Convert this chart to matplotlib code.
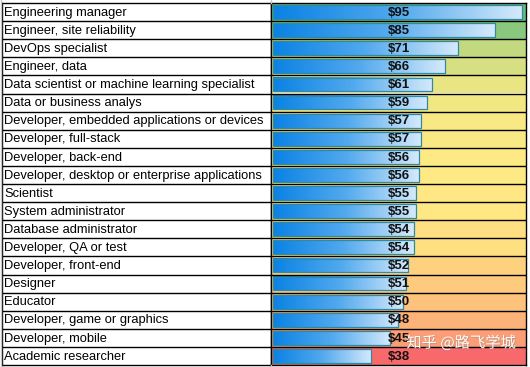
import numpy as np
import matplotlib
matplotlib.use("Agg")
import matplotlib.pyplot as plt
from matplotlib.colors import LinearSegmentedColormap, to_rgb
from matplotlib.lines import Line2D
import matplotlib.patheffects as pe

# Datos de la tabla
roles = [
    "Engineering manager",
    "Engineer, site reliability",
    "DevOps specialist",
    "Engineer, data",
    "Data scientist or machine learning specialist",
    "Data or business analys",
    "Developer, embedded applications or devices",
    "Developer, full-stack",
    "Developer, back-end",
    "Developer, desktop or enterprise applications",
    "Scientist",
    "System administrator",
    "Database administrator",
    "Developer, QA or test",
    "Developer, front-end",
    "Designer",
    "Educator",
    "Developer, game or graphics",
    "Developer, mobile",
    "Academic researcher",
]
salaries = [95, 85, 71, 66, 61, 59, 57, 57, 56, 56, 55, 55, 54, 54, 52, 51, 50, 48, 45, 38]
watermark = "知乎 @路飞学城"


def escala_color(v, vmin, vmed, vmax):
    """Escala de 3 colores estilo Excel (rojo-amarillo-verde)."""
    rojo = np.array(to_rgb("#F8696B"))
    amarillo = np.array(to_rgb("#FFEB84"))
    verde = np.array(to_rgb("#63BE7B"))
    if v <= vmed:
        t = (v - vmin) / (vmed - vmin)
        return tuple(rojo + t * (amarillo - rojo))
    t = (v - vmed) / (vmax - vmed)
    return tuple(amarillo + t * (verde - amarillo))


W, H = 530, 367
fig = plt.figure(figsize=(W / 100, H / 100), dpi=100)
fig.patch.set_facecolor("white")

n = len(roles)
top, bottom = 3, 365
x0, xm, x1 = 2, 271, 526
alto = (bottom - top) / H
base = (H - bottom) / H

# Lineas grises de la hoja (fuera de la tabla)
for yy in ((0, top), (bottom, H)):
    fig.add_artist(Line2D([xm / W, xm / W], [1 - yy[0] / H, 1 - yy[1] / H],
                          color="#c8c8c8", linewidth=1.0))
fig.add_artist(Line2D([0.5 / W, 0.5 / W], [0, 1], color="#c8c8c8", linewidth=1.0))

ax_lab = fig.add_axes([x0 / W, base, (xm - x0) / W, alto])
ax_bar = fig.add_axes([xm / W, base, (x1 - xm) / W, alto])

xmax = 96.6
y = np.arange(n) + 0.5

# Columna de etiquetas
ax_lab.set_xlim(0, 1)
ax_lab.set_ylim(n, 0)
for i, r in enumerate(roles):
    ax_lab.text(0.008, y[i] + 0.04, r, ha="left", va="center",
                fontsize=9.3, family="Liberation Sans", color="black")

# Columna de barras: fondo con escala de colores
vmin, vmax = min(salaries), max(salaries)
vmed = float(np.median(salaries))
fondos = [escala_color(v, vmin, vmed, vmax) for v in salaries]
ax_bar.set_xlim(0, xmax)
ax_bar.set_ylim(n, 0)
ax_bar.barh(y, [xmax] * n, height=1.0, color=fondos, zorder=0)

# Barras con degradado azul
cmap = LinearSegmentedColormap.from_list("azul", ["#0a82e4", "#52a9ee", "#d6eafb"])
grad = np.linspace(0, 1, 256).reshape(1, -1)
hb = 0.76
for i, v in enumerate(salaries):
    ax_bar.imshow(grad, extent=[0.6, v, y[i] + hb / 2, y[i] - hb / 2],
                  aspect="auto", cmap=cmap, zorder=1, interpolation="bilinear")
ax_bar.barh(y, np.array(salaries) - 0.6, left=0.6, height=hb, fill=False,
            edgecolor="#2f8aa6", linewidth=0.9, zorder=2)
ax_bar.set_xlim(0, xmax)
ax_bar.set_ylim(n, 0)

for i, v in enumerate(salaries):
    ax_bar.text(xmax / 2, y[i] + 0.04, "$%d" % v, ha="center", va="center",
                fontsize=9.5, fontweight="bold", family="Liberation Sans",
                color="#111111", zorder=3)

# Bordes de la tabla
for ax in (ax_lab, ax_bar):
    ax.set_xticks([])
    ax.set_yticks([])
    for s in ax.spines.values():
        s.set_color("black")
        s.set_linewidth(1.0)
    for k in range(1, n):
        ax.axhline(k, color="black", linewidth=1.0, zorder=4)

# Marca de agua
fig.text(461 / W, 1 - 343 / H, watermark, ha="center", va="center",
         fontsize=11, color="white", alpha=0.95,
         family=["Noto Sans CJK SC", "DejaVu Sans"],
         path_effects=[pe.withSimplePatchShadow(offset=(0.6, -0.6),
                                                shadow_rgbFace="#888888",
                                                alpha=0.5)])

fig.savefig("out.png", dpi=100)
